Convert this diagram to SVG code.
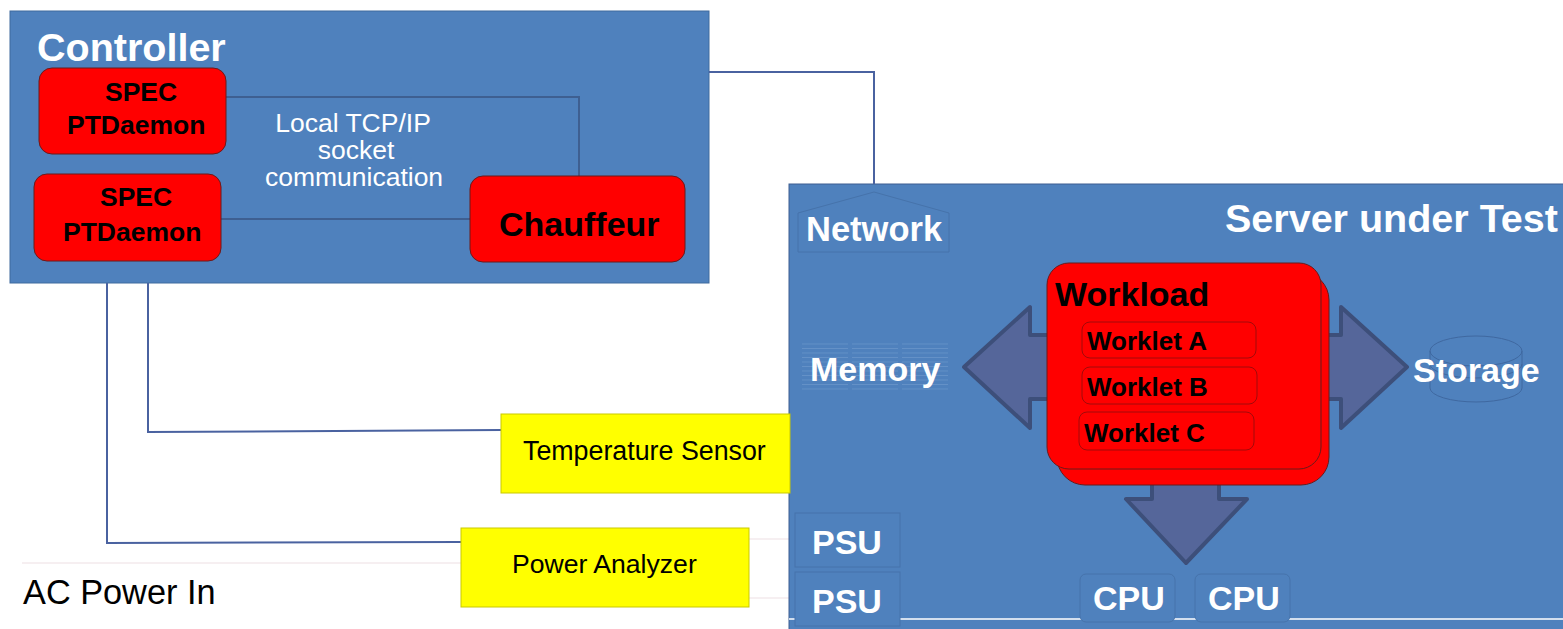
<svg xmlns="http://www.w3.org/2000/svg" width="1563" height="629" viewBox="0 0 1563 629">
<style>
  text { font-family: "Liberation Sans", Arial, sans-serif; }
  .panel { fill: #4f81bd; stroke: #3f6a9e; stroke-width: 1; }
  .red { fill: #ff0000; stroke: #6b1a1a; stroke-width: 1; }
  .redin { fill: #ff0000; stroke: #8a0d0d; stroke-width: 0.8; }
  .yellow { fill: #ffff00; stroke: #c9c900; stroke-width: 1; }
  .wb { fill: #ffffff; font-weight: bold; }
  .kb { fill: #000000; font-weight: bold; }
  .k { fill: #000000; }
  .w { fill: #ffffff; }
  .conn { fill: none; stroke: #4a62a0; stroke-width: 2; }
  .inner { fill: none; stroke: #3e5f91; stroke-width: 2; }
  .faint { fill: none; stroke: #eedfe3; stroke-width: 1.2; }
  .arrow { fill: #55669a; stroke: #3d4f7a; stroke-width: 4; stroke-linejoin: round; }
  .comp { fill: #4f81bd; stroke: #4673ab; stroke-width: 1; }
  .mem { stroke: #6d98cc; stroke-width: 1; opacity: 0.7; }
  .disk { fill: none; stroke: #3f68a0; stroke-width: 1; }
</style>

<!-- faint power lines -->
<g id="power-lines">
  <line class="faint" x1="22" y1="563" x2="461" y2="563"/>
  <line class="faint" x1="749" y1="539" x2="795" y2="539"/>
  <line class="faint" x1="749" y1="598" x2="795" y2="598"/>
</g>

<!-- Controller -->
<g id="controller">
  <rect class="panel" x="10" y="11" width="699" height="272"/>
  <text class="wb" x="37" y="61" font-size="39.5">Controller</text>
</g>

<!-- Server under Test -->
<g id="server">
  <rect class="panel" x="789" y="184" width="780" height="450" style="stroke:#3e5f91"/>
  <text class="wb" x="1225" y="232" font-size="39.5">Server under Test</text>
</g>

<!-- connectors -->
<g id="connectors">
  <polyline class="inner" points="226,97 579,97 579,176"/>
  <polyline class="inner" points="221,219 470,219"/>
  <polyline class="conn" points="709,72 874,72 874,184"/>
  <polyline class="conn" points="148,283 148,432 501,430"/>
  <polyline class="conn" points="107,283 107,543 461,542"/>
</g>

<g id="spec1">
  <rect class="red" x="39" y="68" width="187" height="86" rx="13"/>
  <text class="kb" x="105" y="101" font-size="26.5">SPEC</text>
  <text class="kb" x="67" y="134" font-size="26.5">PTDaemon</text>
</g>
<g id="spec2">
  <rect class="red" x="34" y="174" width="187" height="87" rx="13"/>
  <text class="kb" x="100" y="206" font-size="26.5">SPEC</text>
  <text class="kb" x="63" y="241" font-size="26.5">PTDaemon</text>
</g>
<g id="chauffeur">
  <rect class="red" x="470" y="176" width="215" height="86" rx="13"/>
  <text class="kb" x="499" y="236" font-size="34">Chauffeur</text>
</g>
<g id="tcp-label">
  <text class="w" x="353" y="132" font-size="26.5" text-anchor="middle">Local TCP/IP</text>
  <text class="w" x="356" y="159" font-size="26.5" text-anchor="middle">socket</text>
  <text class="w" x="354" y="186" font-size="26.5" text-anchor="middle">communication</text>
</g>

<g id="network">
  <polygon class="comp" points="798,213 874,192 949,213 949,252 798,252"/>
  <text class="wb" x="806" y="241" font-size="34.5">Network</text>
</g>

<g id="memory">
  <g class="mem">
    <line x1="802" y1="344" x2="848" y2="344"/><line x1="852" y1="344" x2="898" y2="344"/><line x1="902" y1="344" x2="948" y2="344"/>
    <line x1="802" y1="348.5" x2="848" y2="348.5"/><line x1="852" y1="348.5" x2="898" y2="348.5"/><line x1="902" y1="348.5" x2="948" y2="348.5"/>
    <line x1="802" y1="353" x2="848" y2="353"/><line x1="852" y1="353" x2="898" y2="353"/><line x1="902" y1="353" x2="948" y2="353"/>
    <line x1="802" y1="357.5" x2="848" y2="357.5"/><line x1="852" y1="357.5" x2="898" y2="357.5"/><line x1="902" y1="357.5" x2="948" y2="357.5"/>
    <line x1="802" y1="362" x2="848" y2="362"/><line x1="852" y1="362" x2="898" y2="362"/><line x1="902" y1="362" x2="948" y2="362"/>
    <line x1="802" y1="366.5" x2="848" y2="366.5"/><line x1="852" y1="366.5" x2="898" y2="366.5"/><line x1="902" y1="366.5" x2="948" y2="366.5"/>
    <line x1="802" y1="371" x2="848" y2="371"/><line x1="852" y1="371" x2="898" y2="371"/><line x1="902" y1="371" x2="948" y2="371"/>
    <line x1="802" y1="375.5" x2="848" y2="375.5"/><line x1="852" y1="375.5" x2="898" y2="375.5"/><line x1="902" y1="375.5" x2="948" y2="375.5"/>
    <line x1="802" y1="380" x2="848" y2="380"/><line x1="852" y1="380" x2="898" y2="380"/><line x1="902" y1="380" x2="948" y2="380"/>
    <line x1="802" y1="384.5" x2="848" y2="384.5"/><line x1="852" y1="384.5" x2="898" y2="384.5"/><line x1="902" y1="384.5" x2="948" y2="384.5"/>
    <line x1="802" y1="389" x2="848" y2="389"/><line x1="852" y1="389" x2="898" y2="389"/><line x1="902" y1="389" x2="948" y2="389"/>
  </g>
  <text class="wb" x="810" y="381" font-size="34">Memory</text>
</g>

<g id="storage">
  <ellipse class="disk" cx="1476" cy="351" rx="46" ry="15"/>
  <path class="disk" d="M1430,351 L1430,364 A46,14 0 0 0 1522,364 L1522,351"/>
  <path class="disk" d="M1430,364 L1430,388 A46,14 0 0 0 1522,388 L1522,364"/>
  <text class="wb" x="1413" y="382" font-size="34">Storage</text>
</g>

<g id="arrows">
  <polygon class="arrow" points="964,367 1030,307 1030,335 1341,335 1341,307 1407,367 1341,428 1341,399 1030,399 1030,428"/>
  <polygon class="arrow" points="1152,440 1219,440 1219,499 1247,499 1186,563 1126,499 1152,499"/>
</g>

<g id="workload">
  <rect class="red" x="1057" y="272" width="272" height="213" rx="28"/>
  <rect class="red" x="1047" y="263" width="274" height="206" rx="22"/>
  <text class="kb" x="1055" y="306" font-size="34">Workload</text>
</g>
<g id="worklet-a">
  <rect class="redin" x="1082" y="322" width="174" height="36" rx="8"/>
  <text class="kb" x="1087" y="350" font-size="26">Worklet A</text>
</g>
<g id="worklet-b">
  <rect class="redin" x="1082" y="367" width="175" height="37" rx="8"/>
  <text class="kb" x="1087" y="396" font-size="26">Worklet B</text>
</g>
<g id="worklet-c">
  <rect class="redin" x="1079" y="412" width="175" height="38" rx="8"/>
  <text class="kb" x="1084" y="442" font-size="26">Worklet C</text>
</g>

<line x1="789" y1="619" x2="1563" y2="619" stroke="#ffffff" stroke-width="1.5"/>

<g id="psu1">
  <rect class="comp" x="795" y="513" width="105" height="54"/>
  <text class="wb" x="812" y="554" font-size="34">PSU</text>
</g>
<g id="psu2">
  <rect class="comp" x="795" y="572" width="105" height="54"/>
  <text class="wb" x="812" y="613" font-size="34">PSU</text>
</g>
<g id="cpu1">
  <rect class="comp" x="1080" y="574" width="95" height="48" rx="6"/>
  <text class="wb" x="1093" y="610" font-size="34">CPU</text>
</g>
<g id="cpu2">
  <rect class="comp" x="1195" y="574" width="95" height="48" rx="6"/>
  <text class="wb" x="1208" y="610" font-size="34">CPU</text>
</g>

<g id="temp-sensor">
  <rect class="yellow" x="501" y="414" width="289" height="79"/>
  <text class="k" x="523" y="460" font-size="26.8">Temperature Sensor</text>
</g>
<g id="power-analyzer">
  <rect class="yellow" x="461" y="528" width="288" height="79"/>
  <text class="k" x="512" y="573" font-size="26.6">Power Analyzer</text>
</g>
<g id="ac-label">
  <text class="k" x="23" y="604" font-size="34.3">AC Power In</text>
</g>
</svg>
